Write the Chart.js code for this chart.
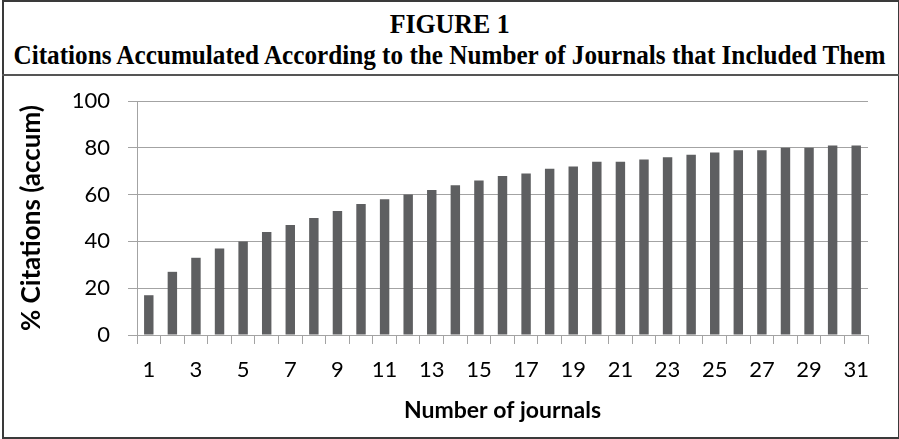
<!DOCTYPE html>
<html>
<head>
<meta charset="utf-8">
<script src="https://cdn.jsdelivr.net/npm/chart.js@4.4.1/dist/chart.umd.min.js"></script>
<style>
  body { margin: 0; background: #fff; overflow: hidden; }
  #frame { position: absolute; left: 2px; top: 0; width: 894px; height: 435px; border: 2px solid #3a3a3a; }
  #divider { position: absolute; left: 2px; top: 74px; width: 898px; height: 2px; background: #555; }
  .ttl { position: absolute; left: -500px; width: 1900px; text-align: center; font-family: 'Liberation Serif', serif; font-weight: bold; color: #000; white-space: nowrap; }
  .ttl span { display: inline-block; transform-origin: center; }
  #fig { top: 9px; font-size: 27px; }
  #sub { top: 40px; font-size: 27px; }
  #chartBox { position: absolute; left: 4px; top: 76px; width: 892px; height: 360px; }
</style>
</head>
<body>
<div id="frame"></div>
<div id="divider"></div>
<div class="ttl" id="fig"><span>FIGURE 1</span></div>
<div class="ttl" id="sub"><span>Citations Accumulated According to the Number of Journals that Included Them</span></div>
<div id="chartBox"><canvas id="citationsChart"></canvas></div>
<script>
// data
const journals = ['1', '2', '3', '4', '5', '6', '7', '8', '9', '10', '11', '12', '13', '14', '15', '16',
  '17', '18', '19', '20', '21', '22', '23', '24', '25', '26', '27', '28', '29', '30', '31'];
const citationsAccum = [17, 27, 33, 37, 40, 44, 47, 50, 53, 56, 58, 60, 62, 64, 66, 68,
  69, 71, 72, 74, 74, 75, 76, 77, 78, 79, 79, 80, 80, 81, 81];
const yTicks = [0, 20, 40, 60, 80, 100];

// squeeze the serif headings to the width they have in the figure
function fitWidth(id, target) {
  const span = document.querySelector('#' + id + ' span');
  const w = span.getBoundingClientRect().width;
  span.style.transform = 'scaleX(' + (target / w) + ')';
}
fitWidth('fig', 120);
fitWidth('sub', 872);

const gridColor = '#a3a3a3';
const labelFont = { family: 'Lato', size: 22 };

const ctx = document.getElementById('citationsChart').getContext('2d');
new Chart(ctx, {
  type: 'bar',
  data: {
    labels: journals,
    datasets: [
      {
        label: '% Citations (accum)',
        data: citationsAccum,
        backgroundColor: '#5e5f61',
        borderWidth: 0,
        barPercentage: 0.4,
        categoryPercentage: 1.0,
      },
    ],
  },
  options: {
    responsive: true,
    maintainAspectRatio: false,
    animation: false,
    layout: { padding: { top: 25, right: 28, left: 0, bottom: 0 } },
    plugins: {
      legend: { display: false },
      tooltip: { enabled: false },
    },
    scales: {
      x: {
        offset: true,
        grid: { offset: true, drawOnChartArea: false, drawTicks: true, tickLength: 9, color: gridColor },
        border: { color: gridColor },
        ticks: {
          autoSkip: false,
          maxRotation: 0,
          padding: 13,
          color: '#000',
          font: labelFont,
          callback: (value, index) => (index % 2 === 0 ? journals[index] : ''),
        },
        title: {
          display: true,
          text: 'Number of journals',
          color: '#000',
          font: { family: 'Lato', size: 23, weight: 'bold' },
          padding: { top: 0, bottom: 12 },
        },
        afterFit: (scale) => { scale.height = 101; },
      },
      y: {
        min: 0,
        max: 100,
        afterBuildTicks: (scale) => { scale.ticks = yTicks.map((v) => ({ value: v })); },
        grid: { drawTicks: true, tickLength: 9, color: gridColor },
        border: { color: gridColor },
        ticks: { padding: 18, color: '#000', font: labelFont },
        title: {
          display: true,
          text: '% Citations (accum)',
          color: '#000',
          font: { family: 'Lato', size: 26, weight: 'bold' },
          padding: { top: 12, bottom: 0 },
        },
        afterFit: (scale) => {
          scale.width = 133;
          scale.paddingTop = 0;
          scale.paddingBottom = 0;
        },
      },
    },
  },
});
</script>
</body>
</html>
